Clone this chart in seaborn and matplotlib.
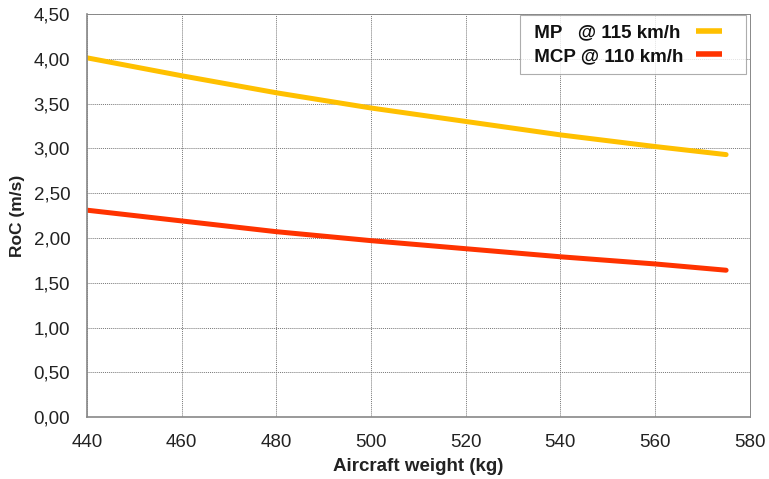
import pandas as pd
import matplotlib
matplotlib.use("Agg")
import matplotlib.pyplot as plt
import seaborn as sns
from matplotlib.legend_handler import HandlerLine2D
from matplotlib.lines import Line2D

# values
weight = [440, 460, 480, 500, 520, 540, 560, 575]
roc_mp = [4.01, 3.81, 3.62, 3.45, 3.30, 3.15, 3.02, 2.93]
roc_mcp = [2.31, 2.19, 2.07, 1.97, 1.88, 1.79, 1.71, 1.64]
series_names = [" MP   @ 115 km/h", " MCP @ 110 km/h"]
x_ticks = [440, 460, 480, 500, 520, 540, 560, 580]
y_ticks = [0, 0.5, 1, 1.5, 2, 2.5, 3, 3.5, 4, 4.5]

df = pd.DataFrame({
    "weight": weight * 2,
    "roc": roc_mp + roc_mcp,
    "series": [series_names[0]] * len(weight) + [series_names[1]] * len(weight),
})

sns.set_style("white")
plt.rcParams["font.family"] = ["Liberation Sans", "DejaVu Sans"]

fig = plt.figure(figsize=(7.69, 4.79), dpi=100)
ax = fig.add_axes([0.113, 0.129, 0.862, 0.842])

sns.lineplot(data=df, x="weight", y="roc", hue="series",
             palette=["#FFC000", "#FF3300"], linewidth=3.6, ax=ax)

ax.set_xlim(440, 580)
ax.set_ylim(0, 4.5)
ax.set_xticks(x_ticks)
ax.set_yticks(y_ticks)
ax.set_yticklabels([f"{v:.2f}".replace(".", ",") for v in y_ticks])
ax.tick_params(labelsize=13.5, length=0, pad=12, colors="#222222")

ax.grid(True, color="#777777", linestyle=(0, (1, 1)), linewidth=0.7)
for side in ["top", "right"]:
    ax.spines[side].set_color("#888888")
    ax.spines[side].set_linestyle((0, (1, 1)))
    ax.spines[side].set_linewidth(0.7)
for side in ["left", "bottom"]:
    ax.spines[side].set_color("#888888")
    ax.spines[side].set_linewidth(1.2)

ax.set_xlabel("Aircraft weight (kg)", fontsize=13.5, fontweight="bold", color="#222222")
ax.set_ylabel("RoC (m/s)", fontsize=12.5, fontweight="bold", color="#222222")
ax.xaxis.set_label_coords(0.5, -0.102)
ax.yaxis.set_label_coords(-0.094, 0.5)

# legend: text left, short line sample on the right with some room after it
leg = ax.legend(loc="upper right", bbox_to_anchor=(0.995, 0.998), borderaxespad=0,
                markerfirst=False, frameon=True, fancybox=False, fontsize=13.5,
                handlelength=3.0, borderpad=0.5, labelspacing=0.35, handletextpad=-0.15,
                handler_map={Line2D: HandlerLine2D(numpoints=2, marker_pad=0.8)})
leg.get_frame().set_edgecolor("#999999")
leg.get_frame().set_linewidth(0.8)
for t in leg.get_texts():
    t.set_fontweight("bold")
    t.set_color("#111111")
for line in leg.get_lines():
    line.set_linewidth(4)
    line.set_solid_capstyle("butt")

# left-align the labels (matplotlib right-aligns them when markerfirst=False)
fig.canvas.draw()
r = fig.canvas.get_renderer()
widths = [t.get_window_extent(r).width for t in leg.get_texts()]
for col in leg._legend_handle_box.get_children():
    for item, w in zip(col.get_children(), widths):
        item.sep += (max(widths) - w) * 72 / fig.dpi

fig.savefig("out.png", dpi=100)
